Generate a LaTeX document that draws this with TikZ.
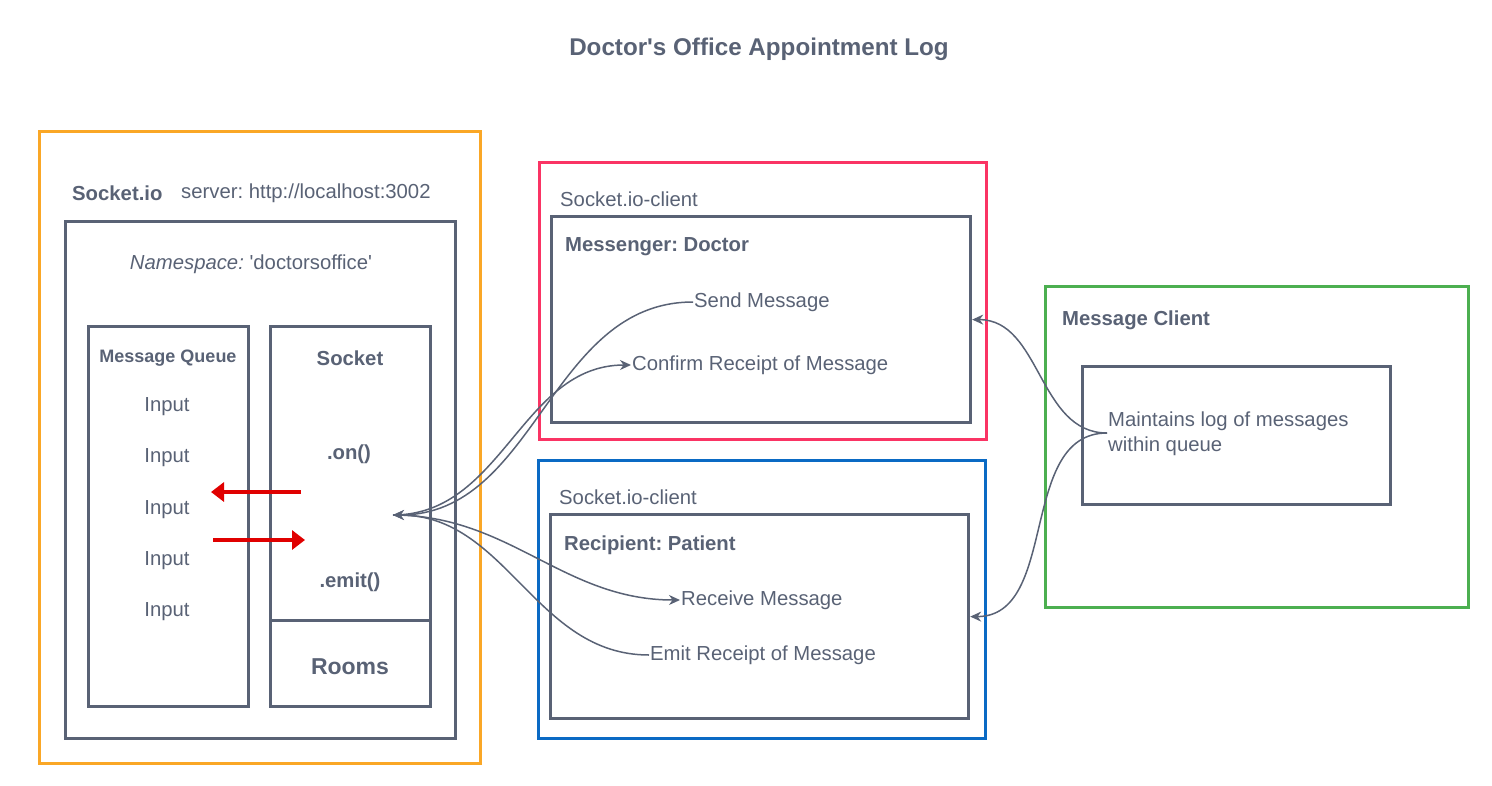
\documentclass[tikz,border=0pt]{standalone}
\usepackage{fontspec}
\setmainfont{Liberation Sans}
\usetikzlibrary{arrows.meta}
\frenchspacing
\definecolor{tgray}{RGB}{89,98,117}
\definecolor{oorange}{RGB}{250,167,38}
\definecolor{ppink}{RGB}{250,52,100}
\definecolor{bblue}{RGB}{10,106,196}
\definecolor{ggreen}{RGB}{76,175,80}
\definecolor{rred}{RGB}{224,0,0}
\tikzset{
  txt/.style={font=\fontsize{20.3}{24}\selectfont, text=tgray, inner sep=1pt},
  btxt/.style={font=\fontsize{20.3}{24}\selectfont\bfseries, text=tgray, inner sep=1pt},
  gbox/.style={draw=tgray, line width=3.2pt, inner sep=0, anchor=north west},
  cbox/.style={line width=3.2pt, inner sep=0, anchor=north west},
  conn/.style={draw=tgray, line width=1.5pt},
  arr/.style={-{Stealth[length=11pt,width=10pt]}},
  redarr/.style={draw=rred, line width=3.2pt, -{Triangle[length=13pt,width=19pt]}}
}
\begin{document}
\begin{tikzpicture}[x=1pt,y=-1pt]
\useasboundingbox (0,0) rectangle (1492,785);
% title
\node[btxt, font=\fontsize{24.2}{28}\selectfont\bfseries] (title) at (759,49) {Doctor\textquotesingle s Office Appointment Log};
% server side
\node[cbox, draw=oorange, minimum width=441, minimum height=632] (server) at (38,130) {};
\node[btxt, anchor=west] (sio) at (71,193) {Socket.io};
\node[txt, anchor=west] (srv) at (180,193) {server: http://localhost:3002};
\node[gbox, minimum width=390, minimum height=517] (ns) at (64,220) {};
\node[txt] (nslabel) at (251,264) {\itshape Namespace:\upshape{} \textquotesingle doctorsoffice\textquotesingle};
\node[gbox, minimum width=160, minimum height=380] (mq) at (87,325) {};
\node[btxt, font=\fontsize{18}{21}\selectfont\bfseries] (mqlabel) at (168,358) {Message Queue};
\node[txt] (in1) at (167,407) {Input};
\node[txt] (in2) at (167,458) {Input};
\node[txt] (in3) at (167,510) {Input};
\node[txt] (in4) at (167,561) {Input};
\node[txt] (in5) at (167,612) {Input};
\node[gbox, minimum width=160, minimum height=294] (sock) at (269,325) {};
\node[gbox, minimum width=160, minimum height=86] (rooms) at (269,619) {};
\node[btxt] (socklabel) at (350,358) {Socket};
\node[btxt] (on) at (349,454) {.on()};
\node[btxt] (emitf) at (350,582) {.emit()};
\node[btxt, font=\fontsize{23}{27}\selectfont\bfseries] (roomslabel) at (350,667) {Rooms};
\coordinate (sp) at (393,515);
\coordinate (ra1) at (301,492);
\coordinate (ra2) at (211,492);
\coordinate (rb1) at (213,540);
\coordinate (rb2) at (305,540);
\draw[redarr] (ra1) -- (ra2);
\draw[redarr] (rb1) -- (rb2);
% doctor
\node[cbox, draw=ppink, minimum width=447, minimum height=277] (docout) at (538,161) {};
\node[txt, anchor=west] (docclient) at (559,199) {Socket.io-client};
\node[gbox, minimum width=419, minimum height=206] (docin) at (550,215) {};
\node[btxt, anchor=west] (doclabel) at (564,247) {Messenger: Doctor};
\node[txt, anchor=west] (send) at (693,302) {Send Message};
\node[txt, anchor=west] (confirm) at (631,365) {Confirm Receipt of Message};
% patient
\node[cbox, draw=bblue, minimum width=447, minimum height=278] (patout) at (537,459) {};
\node[txt, anchor=west] (patclient) at (558,497) {Socket.io-client};
\node[gbox, minimum width=418, minimum height=204] (patin) at (549,513) {};
\node[btxt, anchor=west] (patlabel) at (563,545) {Recipient: Patient};
\node[txt, anchor=west] (receive) at (680,600) {Receive Message};
\node[txt, anchor=west] (emitr) at (649,655) {Emit Receipt of Message};
% message client
\node[cbox, draw=ggreen, minimum width=423, minimum height=321] (mcout) at (1044,285) {};
\node[btxt, anchor=west] (mclabel) at (1061,320) {Message Client};
\node[gbox, minimum width=308, minimum height=138] (mcin) at (1081,365) {};
\node[txt, anchor=west, align=left, font=\fontsize{20.3}{25}\selectfont] (mctext) at (1107,434) {Maintains log of messages\\within queue};
\coordinate (mcp) at (1107,433);
% connectors
\draw[conn, arr] (send.west) to[out=180, in=0] (sp);
\draw[conn, arr] (sp) to[out=0, in=180] (confirm.west);
\draw[conn, arr] (sp) to[out=0, in=180] (receive.west);
\draw[conn, arr] (emitr.west) to[out=180, in=0] (sp);
\draw[conn, arr] (mcp) to[out=180, in=0] (docin.east);
\draw[conn, arr] (mcp) to[out=180, in=0] (patin.east);
\end{tikzpicture}
\end{document}
